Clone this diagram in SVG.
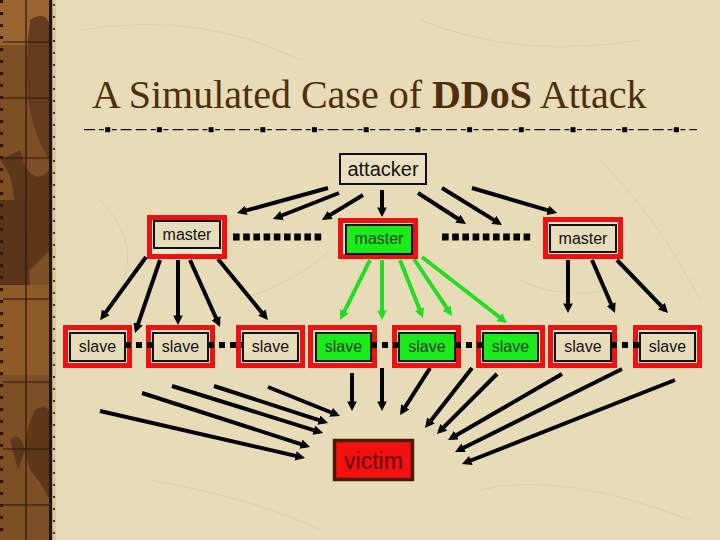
<svg xmlns="http://www.w3.org/2000/svg" width="720" height="540" viewBox="0 0 720 540">
<defs>
<marker id="ah" viewBox="0 0 10 10" refX="5.8" refY="5" markerWidth="2.5" markerHeight="2.4" orient="auto" markerUnits="strokeWidth">
<path d="M0,0 L10,5 L0,10 z" fill="#000"/>
</marker>
<marker id="ahg" viewBox="0 0 10 10" refX="5.8" refY="5" markerWidth="2.5" markerHeight="2.4" orient="auto" markerUnits="strokeWidth">
<path d="M0,0 L10,5 L0,10 z" fill="#22dd22"/>
</marker>
</defs>
<style>
.bg{fill:#e7dcb7}
.tex{fill:none;stroke:#d6c9a2;stroke-width:1;opacity:0.6}
.title{font-family:"Liberation Serif","Times New Roman",serif;font-size:40px;fill:#4e2e0c}
.lbl{font-family:"Liberation Sans",Arial,sans-serif;font-size:16px;fill:#111;text-anchor:middle}
.outer{fill:#efe5cc;stroke:#ee1111;stroke-width:5}
.inner{fill:#e8ddba;stroke:#111;stroke-width:2}
.green{fill:#1aeb1a;stroke:#111;stroke-width:2}
.gtxt{fill:#1f3f1f}
.dots{stroke:#000;stroke-width:7;stroke-dasharray:6.6 3.6;fill:none}
.sdots{stroke:#000;stroke-width:6;stroke-dasharray:6 5;fill:none}
.ar{stroke:#000;stroke-width:4;fill:none;marker-end:url(#ah)}
.arg{stroke:#22dd22;stroke-width:4;fill:none;marker-end:url(#ahg)}
</style>
<rect class="bg" x="0" y="0" width="720" height="540"/>
<g id="texture">
<path class="tex" d="M80,30 Q200,10 300,60 M420,20 Q520,60 640,40 M100,200 Q160,260 90,330 M600,160 Q660,220 700,300 M150,480 Q260,500 320,530 M480,490 Q560,470 690,520 M240,300 Q300,280 330,250 M520,280 Q560,300 610,290"/>
</g>
<g id="binding">
<rect x="0" y="0" width="50" height="540" fill="#7e4e25"/>
<rect x="0" y="0" width="50" height="45" fill="#9a6530"/>
<path d="M0,160 Q20,180 12,240 L30,270 L50,250 L50,170 Q30,190 20,150 Z" fill="#5e3719"/>
<path d="M30,20 Q45,10 50,25 L50,160 Q35,140 28,100 Q25,60 30,20 Z" fill="#643b1c"/>
<path d="M0,200 L25,200 L30,285 L0,285 Z" fill="#5a3418"/>
<rect x="0" y="285" width="50" height="90" fill="#8d5a28"/>
<path d="M35,410 Q50,400 50,420 L50,500 Q40,480 30,470 Q20,440 35,410 Z" fill="#5e3719"/>
<path d="M10,440 Q20,430 25,450 L18,470 Z" fill="#5e3719"/>
<line x1="26" y1="0" x2="26" y2="540" stroke="#2a170a" stroke-width="1.2"/>
<g stroke="#2a170a" stroke-width="1.2">
<line x1="3" y1="42" x2="50" y2="42"/>
<line x1="3" y1="98" x2="50" y2="98"/>
<line x1="3" y1="158" x2="50" y2="158"/>
<line x1="3" y1="299" x2="50" y2="299"/>
<line x1="3" y1="382" x2="50" y2="382"/>
<line x1="3" y1="449" x2="50" y2="449"/>
<line x1="3" y1="505" x2="50" y2="505"/>
</g>
<rect x="49" y="0" width="3.5" height="540" fill="#24150a"/>
<rect x="52.5" y="0" width="3.5" height="540" fill="#d9cb9f"/>
<line x1="1.5" y1="0" x2="1.5" y2="540" stroke="#2a170a" stroke-width="3" stroke-dasharray="3 9"/>
<line x1="54" y1="4" x2="54" y2="540" stroke="#4a3520" stroke-width="2" stroke-dasharray="2 10"/>
</g>
<g id="title">
<text class="title" x="92" y="108">A Simulated Case of <tspan font-weight="bold">DDoS</tspan> Attack</text>
<line x1="83" y1="129.7" x2="697" y2="129.7" stroke="#111" stroke-width="1.3" stroke-dasharray="0 4 5 4 11 4 11 4 5 3.7" stroke-dashoffset="27"/>
<g fill="#000">
<rect x="105.2" y="127.2" width="5" height="5"/><rect x="156.9" y="127.2" width="5" height="5"/><rect x="208.6" y="127.2" width="5" height="5"/><rect x="260.3" y="127.2" width="5" height="5"/><rect x="312" y="127.2" width="5" height="5"/><rect x="363.7" y="127.2" width="5" height="5"/><rect x="415.4" y="127.2" width="5" height="5"/><rect x="467.1" y="127.2" width="5" height="5"/><rect x="518.8" y="127.2" width="5" height="5"/><rect x="570.5" y="127.2" width="5" height="5"/><rect x="622.2" y="127.2" width="5" height="5"/><rect x="673.9" y="127.2" width="5" height="5"/>
</g>
</g>
<g id="connectors">
<line class="dots" x1="233" y1="237" x2="321.5" y2="237"/>
<line class="dots" x1="442" y1="237" x2="530.5" y2="237"/>
<path class="ar" d="M328,188 L240.9,211.9"/>
<path class="ar" d="M339,193 L276.7,217.5"/>
<path class="ar" d="M363,195 L325.4,217.9"/>
<path class="ar" d="M382,190 L382,213"/>
<path class="ar" d="M418,193 L462.6,221.8"/>
<path class="ar" d="M442,188 L498.6,222.9"/>
<path class="ar" d="M472,188 L553.2,211.9"/>
<path class="ar" d="M146,257 L102.5,316.9"/>
<path class="ar" d="M160,260 L136.3,329.2"/>
<path class="ar" d="M178,260 L178,321"/>
<path class="ar" d="M190,260 L218.4,323.3"/>
<path class="ar" d="M218,259 L265.4,316.9"/>
<path class="arg" d="M370,260 L341.8,316.4"/>
<path class="arg" d="M382,260 L382,316"/>
<path class="arg" d="M400,260 L421.5,314.3"/>
<path class="arg" d="M414,259 L449.8,312.7"/>
<path class="arg" d="M422,257 L503.8,320.5"/>
<path class="ar" d="M568,260 L568,309"/>
<path class="ar" d="M592,260 L613.4,309.3"/>
<path class="ar" d="M617,260 L665.2,310.1"/>
<path class="ar" d="M100,411 L301.1,457.1"/>
<path class="ar" d="M142,393 L306.2,445.8"/>
<path class="ar" d="M172,386 L319.2,431.8"/>
<path class="ar" d="M214,386 L324.2,421.8"/>
<path class="ar" d="M268,387 L336.3,414.5"/>
<path class="ar" d="M352,373 L352,407"/>
<path class="ar" d="M382,368 L382,407"/>
<path class="ar" d="M430,368 L402.2,411.6"/>
<path class="ar" d="M472,368 L427.5,424.9"/>
<path class="ar" d="M497,374 L439.8,431.2"/>
<path class="ar" d="M562,374 L451.5,438"/>
<path class="ar" d="M622,369 L458.6,450.2"/>
<path class="ar" d="M675,380 L465.7,462.5"/>
</g>
<g id="attacker">
<rect x="340" y="154" width="86" height="30" fill="#ebe1c0" stroke="#111" stroke-width="2"/>
<text class="lbl" x="383" y="176" style="font-size:20px">attacker</text>
</g>
<g id="master1">
<rect class="outer" x="149.5" y="217.5" width="75" height="39"/>
<rect class="inner" x="154" y="221" width="66" height="27"/>
<text class="lbl" x="187" y="240">master</text>
</g>
<g id="master2">
<rect class="outer" x="340.5" y="220.5" width="75" height="36"/>
<rect class="green" x="346" y="225" width="66" height="29"/>
<text class="lbl gtxt" x="379" y="244">master</text>
</g>
<g id="master3">
<rect class="outer" x="545.5" y="219.5" width="75" height="37"/>
<rect class="inner" x="550" y="225" width="66" height="27"/>
<text class="lbl" x="583" y="244">master</text>
</g>
<g id="slave-outers">
<rect class="outer" x="65.5" y="327.5" width="64" height="38"/>
<rect class="outer" x="148.5" y="327.5" width="64" height="38"/>
<rect class="outer" x="238.5" y="327.5" width="64" height="38"/>
<rect class="outer" x="310.5" y="327.5" width="64" height="38"/>
<rect class="outer" x="394.5" y="327.5" width="64" height="38"/>
<rect class="outer" x="478.5" y="327.5" width="64" height="38"/>
<rect class="outer" x="550.5" y="327.5" width="64" height="38"/>
<rect class="outer" x="635.5" y="327.5" width="64" height="38"/>
</g>
<g id="slave-links">
<line class="sdots" x1="125" y1="345" x2="153" y2="345"/>
<line class="sdots" x1="208" y1="345" x2="243" y2="345"/>
<line class="sdots" x1="371" y1="345" x2="399" y2="345"/>
<line class="sdots" x1="455" y1="345" x2="483" y2="345"/>
<line class="sdots" x1="611" y1="345" x2="639" y2="345"/>
</g>
<g id="slave1"><rect class="inner" x="70" y="333" width="55" height="28"/><text class="lbl" x="97.5" y="352">slave</text></g>
<g id="slave2"><rect class="inner" x="153" y="333" width="55" height="28"/><text class="lbl" x="180.5" y="352">slave</text></g>
<g id="slave3"><rect class="inner" x="243" y="333" width="55" height="28"/><text class="lbl" x="270.5" y="352">slave</text></g>
<g id="slave4"><rect class="green" x="316" y="333" width="55" height="28"/><text class="lbl gtxt" x="343.5" y="352">slave</text></g>
<g id="slave5"><rect class="green" x="399" y="333" width="56" height="28"/><text class="lbl gtxt" x="427" y="352">slave</text></g>
<g id="slave6"><rect class="green" x="483" y="333" width="55" height="28"/><text class="lbl gtxt" x="510.5" y="352">slave</text></g>
<g id="slave7"><rect class="inner" x="555" y="333" width="56" height="28"/><text class="lbl" x="583" y="352">slave</text></g>
<g id="slave8"><rect class="inner" x="640" y="333" width="55" height="28"/><text class="lbl" x="667.5" y="352">slave</text></g>
<g id="victim">
<rect x="334.5" y="440.5" width="78" height="39" fill="#f51010" stroke="#4a1c06" stroke-width="3.5"/>
<text class="lbl" x="373.5" y="469" style="font-size:23px;fill:#5a0c00">victim</text>
</g>
</svg>
